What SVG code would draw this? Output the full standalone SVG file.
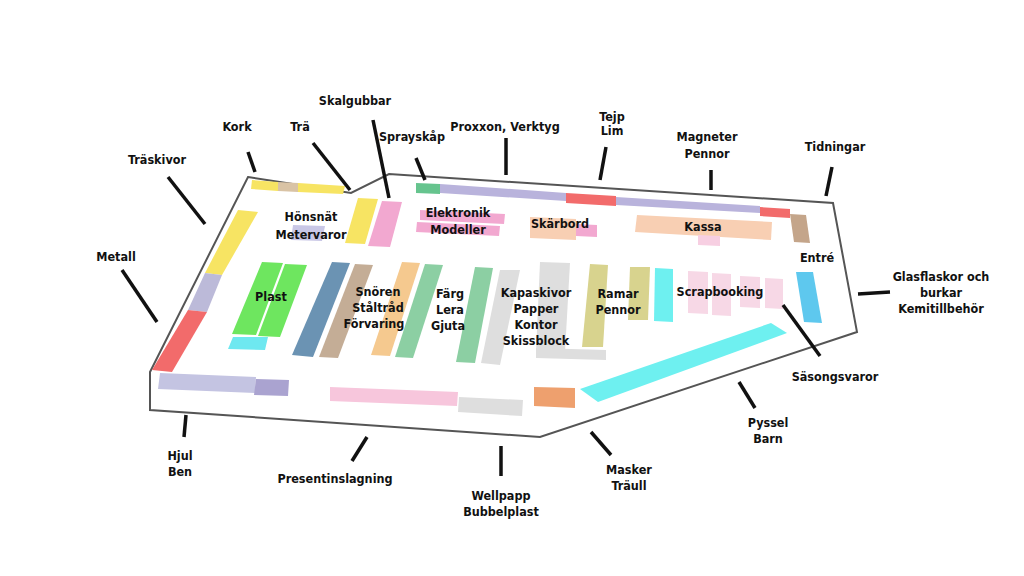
<svg xmlns="http://www.w3.org/2000/svg" width="1024" height="576" viewBox="0 0 1024 576">
<style>
text{font-family:"DejaVu Sans Condensed","DejaVu Sans",sans-serif;font-weight:bold;font-size:12.5px;fill:#111;text-anchor:middle}
.ld{stroke:#111;stroke-width:3.5;fill:none}
.o{fill:#fff;stroke:#555;stroke-width:2}
</style>
<rect width="1024" height="576" fill="#fff"/>
<g id="floor"><polygon class="o" points="248,177 351,193 389,174 833,203 857,332 540,437 150,410 150,372"/></g>
<g id="shelves">
<polygon fill="#f7e463" points="252,180 278,182 278,191 251,189"/>
<polygon fill="#d9c3a5" points="278,182 298,183 298,192 278,191"/>
<polygon fill="#f7e463" points="298,183 345,186 343,194 298,192"/>
<polygon fill="#f7e463" points="238,210 258,212 222,275 205,273"/>
<polygon fill="#bcbad9" points="205,273 222,275 207,312 188,310"/>
<polygon fill="#f26b6b" points="188,310 207,312 172,372 152,370"/>
<polygon fill="#6ee8f0" points="233,337 268,337 265,350 228,349"/>
<polygon fill="#6ee65f" points="262,262 283,263 256,335 232,334"/>
<polygon fill="#6ee65f" points="285,264 307,265 280,337 258,336"/>
<polygon fill="#6b93b3" points="332,262 350,263 313,357 292,355"/>
<polygon fill="#c4ad96" points="355,264 373,265 338,358 319,357"/>
<polygon fill="#f5c98f" points="402,262 420,263 390,356 371,355"/>
<polygon fill="#8ccfa3" points="425,264 443,265 413,358 395,357"/>
<polygon fill="#8ccfa3" points="475,267 493,268 475,363 456,362"/>
<polygon fill="#dedede" points="500,270 520,270 500,365 481,363"/>
<polygon fill="#dedede" points="540,262 570,263 565,352 536,352"/>
<polygon fill="#dedede" points="536,348 606,350 606,360 536,358"/>
<polygon fill="#d8d38e" points="590,264 608,265 603,347 582,347"/>
<polygon fill="#d8d38e" points="630,267 650,267 648,320 628,320"/>
<polygon fill="#6ef0f0" points="655,268 673,269 673,322 654,321"/>
<polygon fill="#f7d8e6" points="688,271 708,272 708,314 688,313"/>
<polygon fill="#f7d8e6" points="712,273 731,274 731,316 712,315"/>
<polygon fill="#f7d8e6" points="740,276 760,277 760,308 740,307"/>
<polygon fill="#f7d8e6" points="765,278 783,279 783,309 765,308"/>
<polygon fill="#5ec8ee" points="796,272 813,272 822,323 804,322"/>
<polygon fill="#c4a58a" points="790,214 806,215 810,243 794,242"/>
<polygon fill="#f8cfb3" points="637,215 772,222 771,240 635,232"/>
<polygon fill="#f7cfe2" points="698,235 720,236 720,246 698,245"/>
<polygon fill="#f8cfb3" points="530,217 576,219 576,240 530,238"/>
<polygon fill="#f2a8d0" points="576,224 597,225 597,237 576,236"/>
<polygon fill="#f2a8d0" points="420,210 505,214 504,224 420,220"/>
<polygon fill="#f2a8d0" points="417,222 500,226 499,236 416,232"/>
<polygon fill="#f2a8d0" points="382,201 402,202 390,247 368,246"/>
<polygon fill="#f7e463" points="358,198 378,199 365,244 345,243"/>
<polygon fill="#c9c7e6" points="293,225 325,226 322,241 291,240"/>
<polygon fill="#66c48e" points="416,183 440,184 440,194 416,193"/>
<polygon fill="#b9b3dc" points="440,184 566,193 566,201 440,193"/>
<polygon fill="#f26b6b" points="566,193 616,196 616,206 566,203"/>
<polygon fill="#b9b3dc" points="616,197 760,206 760,213 616,205"/>
<polygon fill="#f26b6b" points="760,207 790,209 790,218 760,216"/>
<polygon fill="#6ef0f0" points="580,389 771,323 787,333 598,402"/>
<polygon fill="#eea06e" points="534,387 575,388 575,408 534,406"/>
<polygon fill="#f7c6dc" points="330,387 458,392 457,406 330,401"/>
<polygon fill="#dedede" points="459,397 523,400 522,416 458,412"/>
<polygon fill="#c4c4e2" points="160,373 256,377 255,393 158,389"/>
<polygon fill="#aaa3d0" points="256,379 289,380 288,396 254,395"/>
</g>
<g id="connectors">
<line class="ld" x1="248" y1="152" x2="255" y2="172"/>
<line class="ld" x1="313" y1="143" x2="350" y2="190"/>
<line class="ld" x1="373" y1="120" x2="389" y2="198"/>
<line class="ld" x1="416" y1="158" x2="425" y2="180"/>
<line class="ld" x1="506" y1="138" x2="506" y2="175"/>
<line class="ld" x1="606" y1="147" x2="600" y2="180"/>
<line class="ld" x1="711" y1="170" x2="711" y2="190"/>
<line class="ld" x1="832" y1="167" x2="826" y2="196"/>
<line class="ld" x1="168" y1="177" x2="205" y2="224"/>
<line class="ld" x1="122" y1="270" x2="157" y2="322"/>
<line class="ld" x1="858" y1="294" x2="890" y2="292"/>
<line class="ld" x1="783" y1="305" x2="820" y2="356"/>
<line class="ld" x1="739" y1="382" x2="755" y2="408"/>
<line class="ld" x1="591" y1="432" x2="611" y2="455"/>
<line class="ld" x1="501" y1="446" x2="501" y2="476"/>
<line class="ld" x1="367" y1="437" x2="352" y2="461"/>
<line class="ld" x1="186" y1="415" x2="184" y2="437"/>
</g>
<g id="labels">
<text x="237" y="131">Kork</text>
<text x="300" y="131">Trä</text>
<text x="355" y="105">Skalgubbar</text>
<text x="412" y="141">Sprayskåp</text>
<text x="505" y="131">Proxxon, Verktyg</text>
<text x="612" y="121">Tejp</text><text x="612" y="135">Lim</text>
<text x="707" y="141">Magneter</text><text x="707" y="158">Pennor</text>
<text x="835" y="151">Tidningar</text>
<text x="157" y="164">Träskivor</text>
<text x="116" y="261">Metall</text>
<text x="941" y="281">Glasflaskor och</text><text x="941" y="297">burkar</text><text x="941" y="313">Kemitillbehör</text>
<text x="835" y="381">Säsongsvaror</text>
<text x="768" y="427">Pyssel</text><text x="768" y="443">Barn</text>
<text x="629" y="474">Masker</text><text x="629" y="490">Träull</text>
<text x="501" y="500">Wellpapp</text><text x="501" y="516">Bubbelplast</text>
<text x="335" y="483">Presentinslagning</text>
<text x="180" y="460">Hjul</text><text x="180" y="476">Ben</text>
<text x="311" y="221">Hönsnät</text><text x="311" y="239">Metervaror</text>
<text x="458" y="217">Elektronik</text><text x="458" y="234">Modeller</text>
<text x="560" y="228">Skärbord</text>
<text x="703" y="231">Kassa</text>
<text x="817" y="262">Entré</text>
<text x="271" y="301">Plast</text>
<text x="378" y="296">Snören</text><text x="378" y="312">Ståltråd</text><text x="374" y="328">Förvaring</text>
<text x="450" y="298">Färg</text><text x="450" y="314">Lera</text><text x="448" y="330">Gjuta</text>
<text x="536" y="297">Kapaskivor</text><text x="536" y="313">Papper</text><text x="536" y="329">Kontor</text><text x="536" y="345">Skissblock</text>
<text x="618" y="298">Ramar</text><text x="618" y="314">Pennor</text>
<text x="720" y="296">Scrapbooking</text>
</g>
</svg>
